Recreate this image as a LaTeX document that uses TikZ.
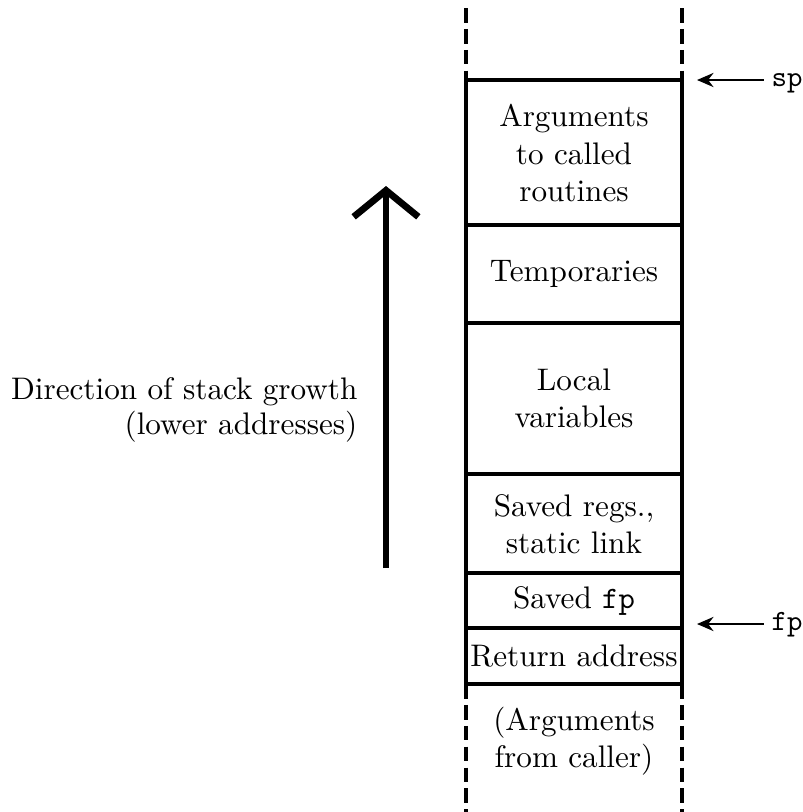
\documentclass[tikz,border=0pt]{standalone}
\usetikzlibrary{arrows.meta}
\begin{document}
\begin{tikzpicture}[x=0.34pt,y=-0.34pt,
  frame/.style={line width=1.1pt},
  wall/.style={line width=1.1pt, dash pattern=on 5pt off 2.1pt},
  cell/.style={align=center, inner sep=0pt, font=\fontsize{10.6}{12.6}\selectfont},
  ptr/.style={line width=0.8pt, -{Stealth[length=5.6pt,width=4.8pt]}},
  growth/.style={line width=2.3pt, -{Straight Barb[length=9pt,width=22pt]}},
  reg/.style={anchor=base west, inner sep=0pt, font=\fontsize{10}{12}\ttfamily},
]
\useasboundingbox (0,0) rectangle (803,812);

% stack frame cells
\foreach \a/\b in {80/225,225/323,323/474,474/573,573/628,628/684}
  \draw[frame] (466,\a) rectangle (682,\b);

% open ends of the stack
\draw[wall] (466,8) -- (466,80);
\draw[wall] (682,8) -- (682,80);
\draw[wall] (466,684) -- (466,812);
\draw[wall] (682,684) -- (682,812);

% cell contents
\node[cell] (args)  at (574,153) {Arguments\\to called\\routines};
\node[cell] (temps) at (574,274) {Temporaries};
\node[cell] (locals) at (574,398) {Local\\variables};
\node[cell] (regs)  at (574,524) {Saved regs.,\\static link};
\node[cell] (sfp)   at (574,601) {Saved \texttt{fp}};
\node[cell] (ret)   at (574,656) {Return address};
\node[cell] (caller) at (574,741) {(Arguments\\from caller)};

% stack and frame pointers
\node[reg] (sp) at (771,86) {sp};
\coordinate (sptail) at (764,80);
\coordinate (sptip) at (697,80);
\draw[ptr] (sptail) -- (sptip);

\node[reg] (fp) at (771,630) {fp};
\coordinate (fptail) at (764,624);
\coordinate (fptip) at (697,624);
\draw[ptr] (fptail) -- (fptip);

% direction of growth
\coordinate (gbase) at (386,568);
\coordinate (gtop) at (386,186);
\draw[growth] (gbase) -- (gtop);
\node[align=right, anchor=east, inner sep=0pt, font=\fontsize{10.6}{11.8}\selectfont] (dir) at (358,410)
  {Direction of stack growth\\(lower addresses)};
\end{tikzpicture}
\end{document}
